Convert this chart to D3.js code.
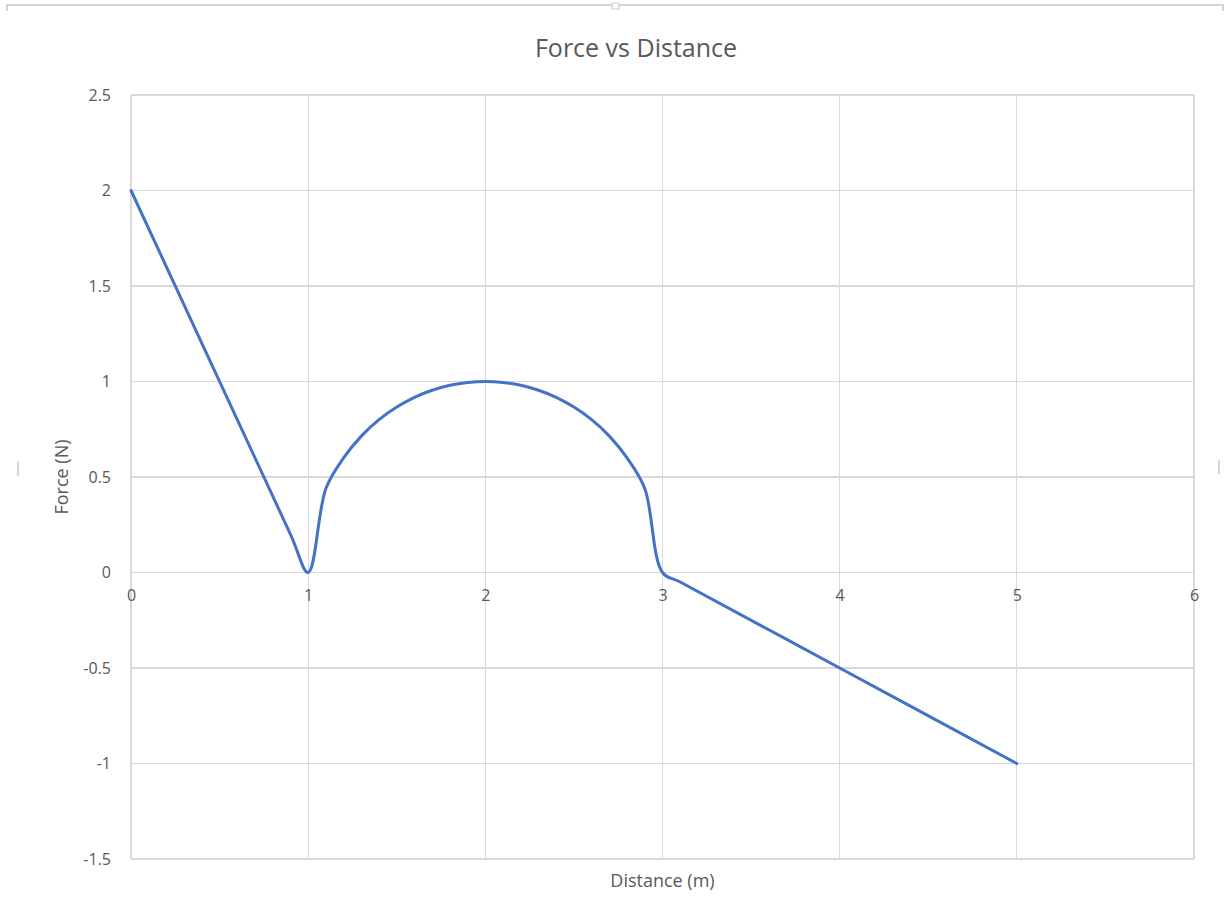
<!DOCTYPE html>
<html><head><meta charset="utf-8">
<script src="https://cdn.jsdelivr.net/npm/d3@7"></script>
<style>body{margin:0;background:#fff;}svg{display:block;}</style>
</head><body>
<script>
const distance = [0, 0.9, 1, 1.1, 1.2, 1.3, 1.4, 1.5, 1.6, 1.7, 1.8, 1.9, 2, 2.1, 2.2, 2.3, 2.4, 2.5, 2.6, 2.7, 2.8, 2.9, 3, 3.1, 4, 5];
const force    = [2, 0.2, 0, 0.44, 0.6, 0.714, 0.8, 0.866, 0.917, 0.954, 0.98, 0.995, 1, 0.995, 0.98, 0.954, 0.917, 0.866, 0.8, 0.714, 0.6, 0.44, 0, -0.05, -0.5, -1];
const xTicks = [0, 1, 2, 3, 4, 5, 6];
const yTicks = [-1.5, -1, -0.5, 0, 0.5, 1, 1.5, 2, 2.5];
const title = "Force vs Distance";
const xTitle = "Distance (m)";
const yTitle = "Force (N)";

const W = 1230, H = 907;
const plot = {left: 131, right: 1194, top: 95, bottom: 859};
const svg = d3.select("body").append("svg").attr("width", W).attr("height", H);
const font = "'Open Sans', 'Noto Sans', sans-serif";
const textColor = "#595959";

// chart frame decorations (selection frame)
const deco = svg.append("g").attr("stroke", "#c8c8c8").attr("fill", "none");
deco.append("path").attr("d", "M7,11 L7,5 L1223,5 L1223,11").attr("stroke-width", 1.5);
deco.append("rect").attr("x", 612).attr("y", 3).attr("width", 7).attr("height", 6).attr("fill", "#fff");
deco.append("line").attr("x1", 18).attr("x2", 18).attr("y1", 461).attr("y2", 476).attr("stroke-width", 1.5);
deco.append("line").attr("x1", 1219).attr("x2", 1219).attr("y1", 460).attr("y2", 474).attr("stroke-width", 1.5);

const x = d3.scaleLinear().domain([0, 6]).range([plot.left, plot.right]);
const y = d3.scaleLinear().domain([-1.5, 2.5]).range([plot.bottom, plot.top]);

// gridlines
const grid = svg.append("g").attr("stroke", "#d9d9d9").attr("stroke-width", 1.2).attr("shape-rendering", "crispEdges");
grid.selectAll("line.v").data(xTicks).join("line").attr("class", "v")
  .attr("x1", d => x(d)).attr("x2", d => x(d)).attr("y1", plot.top).attr("y2", plot.bottom);
grid.selectAll("line.h").data(yTicks).join("line").attr("class", "h")
  .attr("x1", plot.left).attr("x2", plot.right).attr("y1", d => y(d)).attr("y2", d => y(d));

// y axis labels
const yAxis = d3.axisLeft(y).tickValues(yTicks).tickSize(0).tickPadding(20).tickFormat(d => String(d));
const gy = svg.append("g").attr("transform", `translate(${plot.left},0)`).call(yAxis);
gy.select(".domain").remove();
gy.selectAll("text").attr("fill", textColor).style("font-family", font).style("font-size", "16px");

// x axis labels at y = 0
const xAxis = d3.axisBottom(x).tickValues(xTicks).tickSize(0).tickPadding(17).tickFormat(d => String(d));
const gx = svg.append("g").attr("transform", `translate(0,${y(0)})`).call(xAxis);
gx.select(".domain").remove();
gx.selectAll("text").attr("fill", textColor).style("font-family", font).style("font-size", "16px");

// line
const pts = distance.map((d, i) => [d, force[i]]);
const line = d3.line().x(d => x(d[0])).y(d => y(d[1])).curve(d3.curveCatmullRom.alpha(0.5));
svg.append("path").datum(pts).attr("d", line).attr("fill", "none")
  .attr("stroke", "#4472C4").attr("stroke-width", 3).attr("stroke-linejoin", "round").attr("stroke-linecap", "round");

// titles
svg.append("text").attr("x", 636).attr("y", 57).attr("text-anchor", "middle")
  .attr("fill", textColor).style("font-family", font).style("font-size", "25px").text(title);
svg.append("text").attr("x", (plot.left + plot.right) / 2).attr("y", 887).attr("text-anchor", "middle")
  .attr("fill", textColor).style("font-family", font).style("font-size", "18px").text(xTitle);
svg.append("text").attr("transform", `translate(68,${(plot.top + plot.bottom) / 2}) rotate(-90)`).attr("text-anchor", "middle")
  .attr("fill", textColor).style("font-family", font).style("font-size", "18px").text(yTitle);
</script>
</body></html>
